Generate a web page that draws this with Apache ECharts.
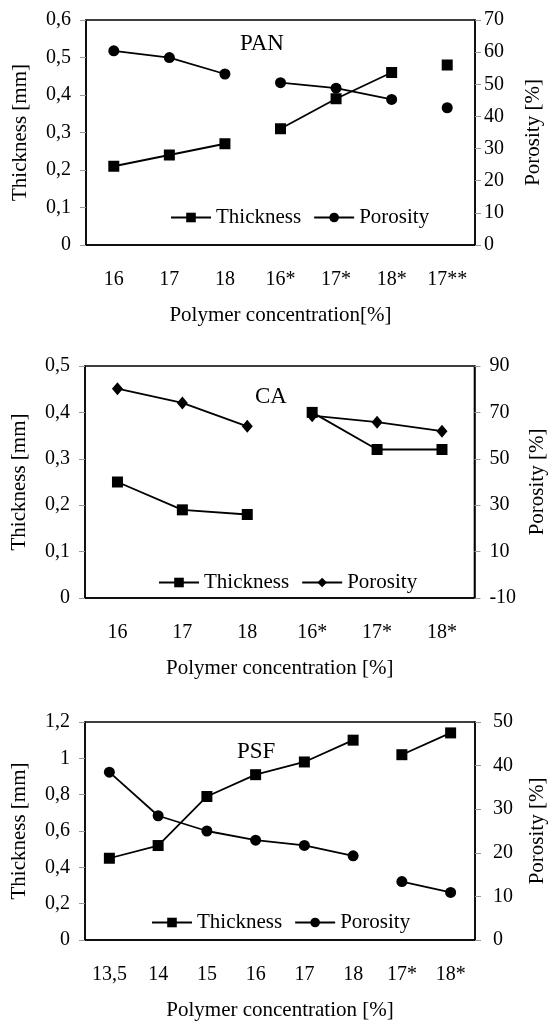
<!DOCTYPE html>
<html>
<head>
<meta charset="utf-8">
<script src="https://cdn.jsdelivr.net/npm/echarts@6/dist/echarts.min.js"></script>
<style>
  body { margin: 0; background: #fff; }
  .panel { position: absolute; left: 0; width: 556px; }
</style>
</head>
<body>
<div id="pan" class="panel" style="top:0;height:335px"></div>
<div id="ca" class="panel" style="top:335px;height:355px"></div>
<div id="psf" class="panel" style="top:690px;height:336px"></div>
<script>
// PAN
let panCats = ["16", "17", "18", "16*", "17*", "18*", "17**"];
let panThickness = [0.21, 0.24, 0.27, 0.31, 0.39, 0.46, 0.48];
let panPorosity = [60.4, 58.3, 53.2, 50.5, 48.8, 45.3, 42.7];
let panGroups = [0, 0, 0, 1, 1, 1, 2];

// CA
let caCats = ["16", "17", "18", "16*", "17*", "18*"];
let caThickness = [0.25, 0.19, 0.18, 0.40, 0.32, 0.32];
let caPorosity = [80.2, 74.1, 64.0, 68.6, 65.8, 61.9];
let caGroups = [0, 0, 0, 1, 1, 1];
let caPorosityTicks = [-10, 10, 30, 50, 70, 90];

// PSF
let psfCats = ["13,5", "14", "15", "16", "17", "18", "17*", "18*"];
let psfThickness = [0.45, 0.52, 0.79, 0.91, 0.98, 1.10, 1.02, 1.14];
let psfPorosity = [38.5, 28.5, 25.0, 22.9, 21.7, 19.3, 13.4, 10.9];
let psfGroups = [0, 0, 0, 0, 0, 0, 1, 1];

const FONT = "Liberation Serif";
const FS = 20;
const NAME_FS = 21;

function comma(v) {
  return String(Math.round(v * 100) / 100).replace(".", ",");
}

// one line series per group, so the line breaks between groups
function lineSeries(name, values, groups, yIndex, symbol, size) {
  let ids = Array.from(new Set(groups));
  return ids.map(function (g) {
    return {
      name: name,
      type: "line",
      yAxisIndex: yIndex,
      data: values.map(function (v, i) { return groups[i] === g ? v : null; }),
      symbol: symbol,
      symbolSize: size,
      showSymbol: true,
      lineStyle: { color: "#000", width: 1.8 },
      itemStyle: { color: "#000" },
      animation: false
    };
  });
}

function valueAxis(o) {
  let ax = {
    type: "value",
    position: o.position,
    min: o.min,
    max: o.max,
    interval: o.interval,
    name: o.name,
    nameLocation: "middle",
    nameGap: o.nameGap,
    nameRotate: 90,
    nameTextStyle: { color: "#000", fontFamily: FONT, fontSize: NAME_FS },
    axisLine: { show: true, lineStyle: { color: "#000", width: 1.5 } },
    axisTick: { show: true, inside: false, length: 6, lineStyle: { color: "#999" } },
    splitLine: { show: false },
    axisLabel: {
      margin: o.margin,
      color: "#000",
      fontFamily: FONT,
      fontSize: FS,
      formatter: o.formatter
    }
  };
  if (o.customValues) {
    ax.axisLabel.customValues = o.customValues;
    ax.axisTick.customValues = o.customValues;
  }
  return ax;
}

function makeOption(c) {
  return {
    animation: false,
    textStyle: { fontFamily: FONT },
    title: {
      text: c.title,
      left: c.titleLeft,
      top: c.titleTop,
      textStyle: { fontFamily: FONT, fontWeight: "normal", fontSize: 23, color: "#000" }
    },
    legend: {
      left: c.legendLeft,
      top: c.legendTop,
      itemWidth: 40,
      itemHeight: 12,
      itemGap: 12,
      textStyle: { fontFamily: FONT, fontSize: NAME_FS, color: "#000" },
      data: ["Thickness", "Porosity"]
    },
    grid: {
      left: c.gridLeft,
      right: c.gridRight,
      top: c.gridTop,
      height: c.gridHeight,
      show: true,
      borderColor: "#000",
      borderWidth: 1.5
    },
    xAxis: {
      type: "category",
      data: c.cats,
      boundaryGap: true,
      name: c.xName,
      nameLocation: "middle",
      nameGap: 60,
      nameTextStyle: { color: "#000", fontFamily: FONT, fontSize: NAME_FS },
      axisLine: { lineStyle: { color: "#000", width: 1.5 } },
      axisTick: { show: false },
      axisLabel: { margin: 25, color: "#000", fontFamily: FONT, fontSize: FS }
    },
    yAxis: [c.left, c.right],
    series: lineSeries("Thickness", c.thickness, c.groups, 0, "rect", 11)
      .concat(lineSeries("Porosity", c.porosity, c.groups, 1, c.porSymbol, c.porSize))
  };
}

let panChart = echarts.init(document.getElementById("pan"));
panChart.setOption(makeOption({
  title: "PAN", titleLeft: 235, titleTop: 27,
  legendLeft: 165, legendTop: 202,
  gridLeft: 86, gridRight: 81, gridTop: 20, gridHeight: 225,
  cats: panCats, xName: "Polymer concentration[%]",
  thickness: panThickness, porosity: panPorosity, groups: panGroups,
  porSymbol: "circle", porSize: 11,
  left: valueAxis({ position: "left", min: 0, max: 0.6, interval: 0.1, name: "Thickness [mm]", nameGap: 55, margin: 15, formatter: comma }),
  right: valueAxis({ position: "right", min: 0, max: 70, interval: 10, name: "Porosity [%]", nameGap: 48, margin: 9 })
}));

let caChart = echarts.init(document.getElementById("ca"));
caChart.setOption(makeOption({
  title: "CA", titleLeft: 250, titleTop: 45,
  legendLeft: 153, legendTop: 232,
  gridLeft: 85, gridRight: 77, gridTop: 31, gridHeight: 232,
  cats: caCats, xName: "Polymer concentration [%]",
  thickness: caThickness, porosity: caPorosity, groups: caGroups,
  porSymbol: "diamond", porSize: [11, 13],
  left: valueAxis({ position: "left", min: 0, max: 0.5, interval: 0.1, name: "Thickness [mm]", nameGap: 55, margin: 15, formatter: comma }),
  right: valueAxis({ position: "right", min: -10, max: 90, name: "Porosity [%]", nameGap: 50, margin: 15, customValues: caPorosityTicks })
}));

let psfChart = echarts.init(document.getElementById("psf"));
psfChart.setOption(makeOption({
  title: "PSF", titleLeft: 232, titleTop: 45,
  legendLeft: 146, legendTop: 217,
  gridLeft: 85, gridRight: 71, gridTop: 32, gridHeight: 225,
  cats: psfCats, xName: "Polymer concentration [%]",
  thickness: psfThickness, porosity: psfPorosity, groups: psfGroups,
  porSymbol: "circle", porSize: 11,
  left: valueAxis({ position: "left", min: 0, max: 1.2, interval: 0.2, name: "Thickness [mm]", nameGap: 55, margin: 15, formatter: comma }),
  right: valueAxis({ position: "right", min: 0, max: 50, interval: 10, name: "Porosity [%]", nameGap: 52, margin: 18 })
}));
</script>
</body>
</html>
